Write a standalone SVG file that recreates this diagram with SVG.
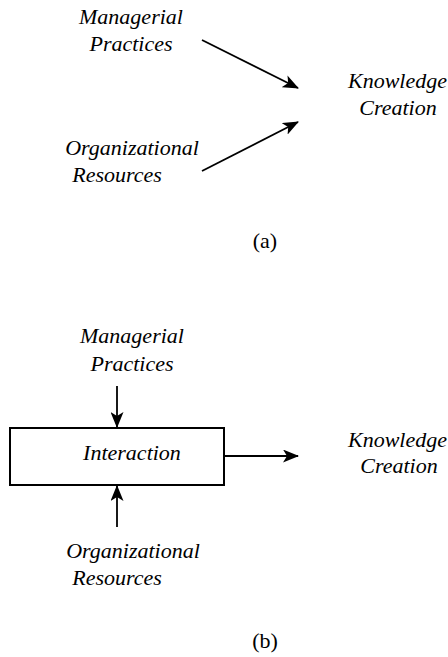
<svg xmlns="http://www.w3.org/2000/svg" width="448" height="657" viewBox="0 0 448 657">
  <style>
    .lbl { font-family: 'Liberation Serif', 'Times New Roman', serif; font-style: italic; font-size: 22px; fill: #000; text-anchor: middle; }
    .start { text-anchor: start; }
    .cap { font-family: 'Liberation Serif', 'Times New Roman', serif; font-size: 22px; fill: #000; text-anchor: middle; }
    .edge { stroke: #000; stroke-width: 1.8; fill: none; marker-end: url(#head); }
    .box { fill: #fff; stroke: #000; stroke-width: 2; }
  </style>
  <defs>
    <marker id="head" viewBox="0 0 16 13" refX="15" refY="6.5" markerWidth="16" markerHeight="13" markerUnits="userSpaceOnUse" orient="auto">
      <path d="M0,0 L16,6.5 L0,13 L4,6.5 Z" fill="#000"/>
    </marker>
  </defs>
  <rect width="448" height="657" fill="#fff"/>

  <!-- (a) direct effects -->
  <g id="a-managerial">
    <text class="lbl" x="131" y="24">Managerial</text>
    <text class="lbl" x="131" y="51">Practices</text>
  </g>
  <g id="a-organizational">
    <text class="lbl" x="132" y="155">Organizational</text>
    <text class="lbl" x="117" y="182">Resources</text>
  </g>
  <g id="a-knowledge">
    <text class="lbl start" x="348" y="88">Knowledge</text>
    <text class="lbl" x="398" y="115">Creation</text>
  </g>
  <text class="cap" x="265" y="248">(a)</text>

  <!-- (b) interaction effect -->
  <g id="b-managerial">
    <text class="lbl" x="132" y="343">Managerial</text>
    <text class="lbl" x="132" y="371">Practices</text>
  </g>
  <g id="b-interaction">
    <rect class="box" x="10" y="428" width="214" height="57"/>
    <text class="lbl" x="132" y="460">Interaction</text>
  </g>
  <g id="b-organizational">
    <text class="lbl" x="133" y="558">Organizational</text>
    <text class="lbl" x="117" y="585">Resources</text>
  </g>
  <g id="b-knowledge">
    <text class="lbl start" x="348" y="447">Knowledge</text>
    <text class="lbl" x="399" y="473">Creation</text>
  </g>
  <text class="cap" x="265" y="648">(b)</text>

  <g id="connectors">
    <line class="edge" x1="202" y1="40" x2="298" y2="88"/>
    <line class="edge" x1="202" y1="171" x2="298" y2="122"/>
    <line class="edge" x1="117" y1="386" x2="117" y2="427"/>
    <line class="edge" x1="117" y1="527" x2="117" y2="486"/>
    <line class="edge" x1="225" y1="456" x2="298" y2="456"/>
  </g>
</svg>
